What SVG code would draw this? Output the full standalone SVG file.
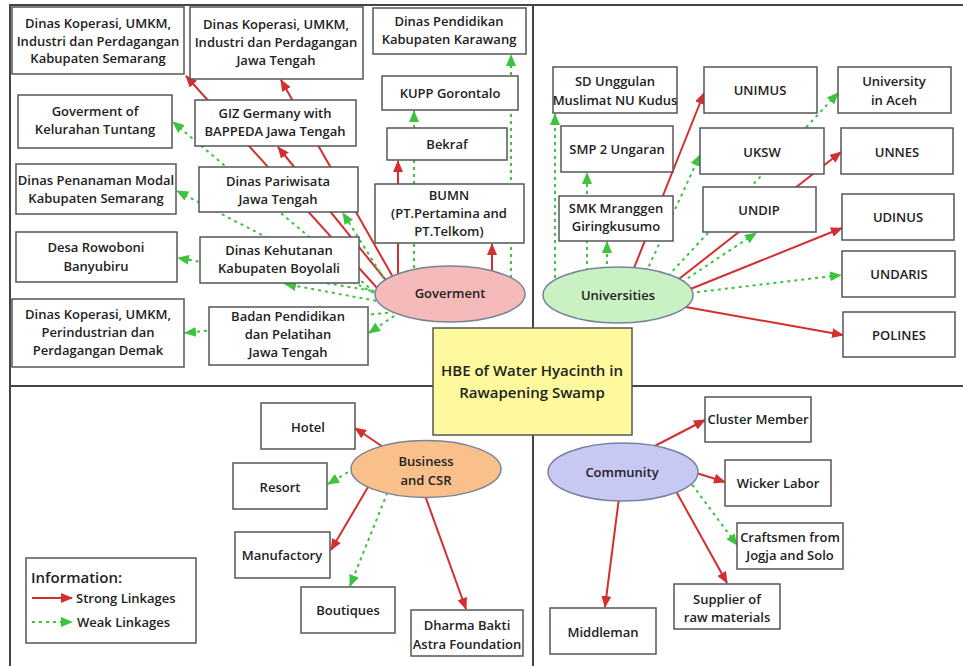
<svg xmlns="http://www.w3.org/2000/svg" width="963" height="666" viewBox="0 0 963 666">
<defs>
<style>
.frame{fill:none;stroke:#444;stroke-width:2}
.box{fill:#fff;stroke:#555;stroke-width:1.5}
.ell{stroke:#76849a;stroke-width:1.5}
.t{font-family:"Open Sans","Liberation Sans",sans-serif;font-size:13px;font-weight:600;fill:#222;text-anchor:middle}
.big{font-size:15px}
.s{fill:none;stroke:#d32f2f;stroke-width:2;marker-end:url(#ar)}
.w{fill:none;stroke:#3cc43c;stroke-width:2;stroke-dasharray:3 4;marker-end:url(#ag)}
</style>
<marker id="ar" markerUnits="userSpaceOnUse" markerWidth="12" markerHeight="10" refX="11" refY="5" orient="auto"><path d="M0,0 L12,5 L0,10 z" fill="#d32f2f"/></marker>
<marker id="ag" markerUnits="userSpaceOnUse" markerWidth="12" markerHeight="10" refX="11" refY="5" orient="auto"><path d="M0,0 L12,5 L0,10 z" fill="#3cc43c"/></marker>
</defs>
<rect width="963" height="666" fill="#fff"/>
<g id="frame">
<path class="frame" d="M10,666 L10,5 L963,5 M10,386 L963,386 M533,5 L533,666"/>
</g>
<g id="connectors">
<path class="s" d="M378,289 L186,76"/>
<path class="s" d="M398,286 L281,80"/>
<path class="s" d="M393,289 L278,147"/>
<path class="s" d="M398,280 L398,161"/>
<path class="s" d="M492,280 L492,244"/>
<path class="w" d="M511,285 L511,55"/>
<path class="w" d="M414,282 L414,111"/>
<path class="w" d="M385,301 L173,122"/>
<path class="w" d="M380,296 L177,191"/>
<path class="w" d="M385,293 L178,258"/>
<path class="w" d="M383,302 L285,284"/>
<path class="w" d="M391,290 L343,213"/>
<path class="w" d="M400,312 L369,333"/>
<path class="w" d="M395,312 L185,333"/>
<path class="w" d="M555,285 L555,114"/>
<path class="w" d="M587,285 L587,173"/>
<path class="w" d="M607,285 L607,242"/>
<path class="w" d="M643,279 L700,155"/>
<path class="w" d="M668,276 L838,93"/>
<path class="w" d="M676,286 L756,233"/>
<path class="w" d="M690,293 L841,275"/>
<path class="s" d="M630,278 L704,93"/>
<path class="s" d="M670,286 L841,152"/>
<path class="s" d="M688,290 L842,228"/>
<path class="s" d="M680,306 L843,335"/>
<path class="s" d="M395,455 L355,428"/>
<path class="w" d="M372,458 L328,484"/>
<path class="s" d="M371,482 L331,550"/>
<path class="w" d="M390,486 L350,586"/>
<path class="s" d="M423,490 L466,609"/>
<path class="s" d="M647,450 L705,420"/>
<path class="s" d="M690,471 L725,482"/>
<path class="w" d="M688,479 L737,545"/>
<path class="s" d="M672,484 L727,583"/>
<path class="s" d="M620,490 L605,607"/>
</g>
<g id="n-a"><rect class="box" x="12" y="7" width="172" height="67"/><text class="t" x="98" y="27.5">Dinas Koperasi, UMKM,</text><text class="t" x="98" y="45.5">Industri dan Perdagangan</text><text class="t" x="98" y="62.5">Kabupaten Semarang</text></g>
<g id="n-b"><rect class="box" x="190" y="7" width="173" height="72"/><text class="t" x="276" y="28.5">Dinas Koperasi, UMKM,</text><text class="t" x="276" y="46.5">Industri dan Perdagangan</text><text class="t" x="276" y="64.5">Jawa Tengah</text></g>
<g id="n-c"><rect class="box" x="373" y="8" width="153" height="46"/><text class="t" x="449" y="25.5">Dinas Pendidikan</text><text class="t" x="449" y="43.5">Kabupaten Karawang</text></g>
<g id="n-kupp"><rect class="box" x="382" y="76" width="136" height="34"/><text class="t" x="450" y="97.5">KUPP Gorontalo</text></g>
<g id="n-bekraf"><rect class="box" x="387" y="128" width="120" height="32"/><text class="t" x="447" y="148.5">Bekraf</text></g>
<g id="n-bumn"><rect class="box" x="375" y="184" width="149" height="59"/><text class="t" x="449" y="199.5">BUMN</text><text class="t" x="449" y="217.5">(PT.Pertamina and</text><text class="t" x="449" y="235.5">PT.Telkom)</text></g>
<g id="n-govkel"><rect class="box" x="18" y="95" width="154" height="53"/><text class="t" x="95" y="115.5">Goverment of</text><text class="t" x="95" y="133.5">Kelurahan Tuntang</text></g>
<g id="n-giz"><rect class="box" x="195" y="100" width="161" height="46"/><text class="t" x="275" y="117.5">GIZ Germany with</text><text class="t" x="275" y="135.5">BAPPEDA Jawa Tengah</text></g>
<g id="n-penanaman"><rect class="box" x="16" y="164" width="160" height="50"/><text class="t" x="96" y="184.5">Dinas Penanaman Modal</text><text class="t" x="96" y="202.5">Kabupaten Semarang</text></g>
<g id="n-pariwisata"><rect class="box" x="199" y="167" width="159" height="45"/><text class="t" x="278" y="185.5">Dinas Pariwisata</text><text class="t" x="278" y="203.5">Jawa Tengah</text></g>
<g id="n-desa"><rect class="box" x="16" y="232" width="161" height="50"/><text class="t" x="96" y="251.5">Desa Rowoboni</text><text class="t" x="96" y="270.5">Banyubiru</text></g>
<g id="n-kehutanan"><rect class="box" x="200" y="237" width="159" height="46"/><text class="t" x="279" y="254.5">Dinas Kehutanan</text><text class="t" x="279" y="272.5">Kabupaten Boyolali</text></g>
<g id="n-demak"><rect class="box" x="12" y="299" width="172" height="68"/><text class="t" x="98" y="318.5">Dinas Koperasi, UMKM,</text><text class="t" x="98" y="336.5">Perindustrian dan</text><text class="t" x="98" y="354.5">Perdagangan Demak</text></g>
<g id="n-badan"><rect class="box" x="209" y="307" width="159" height="58"/><text class="t" x="288" y="320.5">Badan Pendidikan</text><text class="t" x="288" y="338.5">dan Pelatihan</text><text class="t" x="288" y="356.5">Jawa Tengah</text></g>
<g id="n-goverment"><ellipse class="ell" cx="450" cy="294" rx="75" ry="28" fill="#f5baba"/><text class="t" x="450" y="298">Goverment</text></g>
<g id="n-sd"><rect class="box" x="553" y="67" width="124" height="46"/><text class="t" x="615" y="85.5">SD Unggulan</text><text class="t" x="615" y="104.5">Muslimat NU Kudus</text></g>
<g id="n-unimus"><rect class="box" x="704" y="67" width="113" height="46"/><text class="t" x="760" y="94.5">UNIMUS</text></g>
<g id="n-aceh"><rect class="box" x="838" y="67" width="113" height="46"/><text class="t" x="894" y="85.5">University</text><text class="t" x="894" y="104.5">in Aceh</text></g>
<g id="n-smp"><rect class="box" x="561" y="126" width="112" height="46"/><text class="t" x="617" y="153.5">SMP 2 Ungaran</text></g>
<g id="n-uksw"><rect class="box" x="700" y="128" width="124" height="46"/><text class="t" x="762" y="156.5">UKSW</text></g>
<g id="n-unnes"><rect class="box" x="841" y="128" width="112" height="46"/><text class="t" x="897" y="156.5">UNNES</text></g>
<g id="n-smk"><rect class="box" x="559" y="196" width="114" height="45"/><text class="t" x="616" y="212.5">SMK Mranggen</text><text class="t" x="616" y="230.5">Giringkusumo</text></g>
<g id="n-undip"><rect class="box" x="703" y="187" width="113" height="45"/><text class="t" x="759" y="214.5">UNDIP</text></g>
<g id="n-udinus"><rect class="box" x="842" y="194" width="112" height="46"/><text class="t" x="898" y="221.5">UDINUS</text></g>
<g id="n-undaris"><rect class="box" x="842" y="251" width="113" height="46"/><text class="t" x="899" y="278.5">UNDARIS</text></g>
<g id="n-polines"><rect class="box" x="843" y="312" width="112" height="45"/><text class="t" x="899" y="339.5">POLINES</text></g>
<g id="n-universities"><ellipse class="ell" cx="618" cy="295" rx="75" ry="28" fill="#caf1c4"/><text class="t" x="618" y="300">Universities</text></g>
<g id="n-center"><rect x="433" y="328" width="199" height="107" fill="#fdf99c" stroke="#555" stroke-width="1.5"/><text class="t big" x="532" y="376">HBE of Water Hyacinth in</text><text class="t big" x="532" y="398">Rawapening Swamp</text></g>
<g id="n-hotel"><rect class="box" x="261" y="403" width="94" height="46"/><text class="t" x="308" y="431.5">Hotel</text></g>
<g id="n-resort"><rect class="box" x="233" y="463" width="94" height="46"/><text class="t" x="280" y="491.5">Resort</text></g>
<g id="n-manufactory"><rect class="box" x="235" y="532" width="95" height="46"/><text class="t" x="282" y="559.5">Manufactory</text></g>
<g id="n-boutiques"><rect class="box" x="301" y="587" width="94" height="46"/><text class="t" x="348" y="614.5">Boutiques</text></g>
<g id="n-dharma"><rect class="box" x="411" y="610" width="112" height="46"/><text class="t" x="467" y="629.5">Dharma Bakti</text><text class="t" x="467" y="648.5">Astra Foundation</text></g>
<g id="n-business"><ellipse class="ell" cx="426" cy="469" rx="75" ry="28.5" fill="#f9c08c"/><text class="t" x="426" y="465.5">Business</text><text class="t" x="426" y="484.5">and CSR</text></g>
<g id="n-cluster"><rect class="box" x="705" y="397" width="106" height="45"/><text class="t" x="758" y="423.5">Cluster Member</text></g>
<g id="n-wicker"><rect class="box" x="725" y="460" width="106" height="46"/><text class="t" x="778" y="487.5">Wicker Labor</text></g>
<g id="n-craftsmen"><rect class="box" x="737" y="523" width="106" height="46"/><text class="t" x="790" y="541.5">Craftsmen from</text><text class="t" x="790" y="559.5">Jogja and Solo</text></g>
<g id="n-supplier"><rect class="box" x="674" y="584" width="106" height="45"/><text class="t" x="727" y="603.5">Supplier of</text><text class="t" x="727" y="621.5">raw materials</text></g>
<g id="n-middleman"><rect class="box" x="550" y="608" width="106" height="46"/><text class="t" x="603" y="636.5">Middleman</text></g>
<g id="n-community"><ellipse class="ell" cx="623" cy="472" rx="75" ry="29" fill="#c8c8f4"/><text class="t" x="622" y="476.5">Community</text></g>
<g id="legend">
<rect class="box" x="26" y="558" width="170" height="85"/>
<text class="t big" x="31" y="583" style="text-anchor:start">Information:</text>
<path class="s" d="M32,598 L72,598"/>
<text class="t" x="76" y="602.5" style="text-anchor:start">Strong Linkages</text>
<path class="w" d="M32,622 L72,622"/>
<text class="t" x="77" y="626.5" style="text-anchor:start">Weak Linkages</text>
</g>
</svg>
